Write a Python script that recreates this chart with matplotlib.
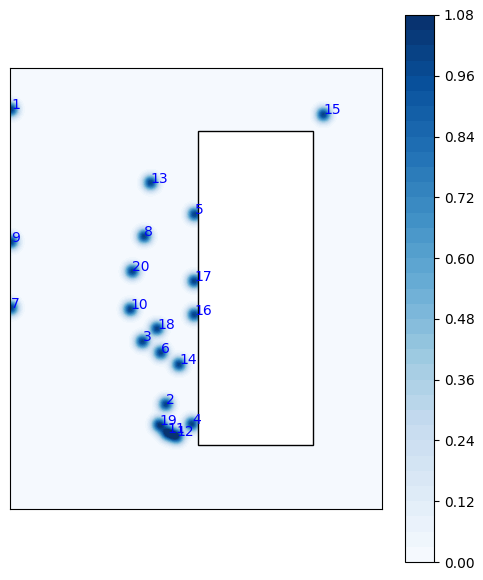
import numpy as np
import matplotlib
matplotlib.use("Agg")
import matplotlib.pyplot as plt
from matplotlib.patches import Rectangle

# room size and obstacle (table)
room_w, room_h = 11.0, 13.0
table_x, table_y, table_w, table_h = 5.55, 1.9, 3.4, 9.25

# positions of the numbered points
labels = [str(i) for i in range(1, 21)]
xs = [0.02, 4.60, 3.91, 5.37, 5.45, 4.45, 0.02, 3.96, 0.02, 3.55,
      4.65, 4.92, 4.15, 4.99, 9.26, 5.44, 5.44, 4.34, 4.40, 3.61]
ys = [11.78, 3.09, 4.94, 2.51, 8.69, 4.61, 5.93, 8.04, 7.88, 5.89,
      2.24, 2.14, 9.62, 4.26, 11.63, 5.73, 6.72, 5.32, 2.49, 7.01]

sigma = 0.15

gx = np.linspace(0, room_w, 440)
gy = np.linspace(0, room_h, 520)
X, Y = np.meshgrid(gx, gy)
Z = np.zeros_like(X)
for px, py in zip(xs, ys):
    Z += np.exp(-((X - px) ** 2 + (Y - py) ** 2) / (2 * sigma ** 2))
Z = np.clip(Z, 0, 1.075)

# nothing inside the table
inside = (X > table_x) & (X < table_x + table_w) & (Y > table_y) & (Y < table_y + table_h)
Z = np.ma.masked_where(inside, Z)

fig = plt.figure(figsize=(4.83, 5.8), dpi=100)
ax = fig.add_axes([10.3 / 483, 71 / 580, 372 / 483, 441 / 580])
cax = fig.add_axes([405 / 483, 18 / 580, 29 / 483, 547 / 580])

levels = np.linspace(0, 1.08, 37)
cf = ax.contourf(X, Y, Z, levels=levels, cmap="Blues")

ax.add_patch(Rectangle((table_x, table_y), table_w, table_h,
                       fill=False, edgecolor="black", linewidth=1))

for lab, px, py in zip(labels, xs, ys):
    ax.text(px, py, lab, color="blue", fontsize=10)

ax.set_xlim(0, room_w)
ax.set_ylim(0, room_h)
ax.set_xticks([])
ax.set_yticks([])

cb = fig.colorbar(cf, cax=cax)
cb.set_ticks(np.arange(0, 1.09, 0.12))

fig.savefig("out.png", dpi=100)
